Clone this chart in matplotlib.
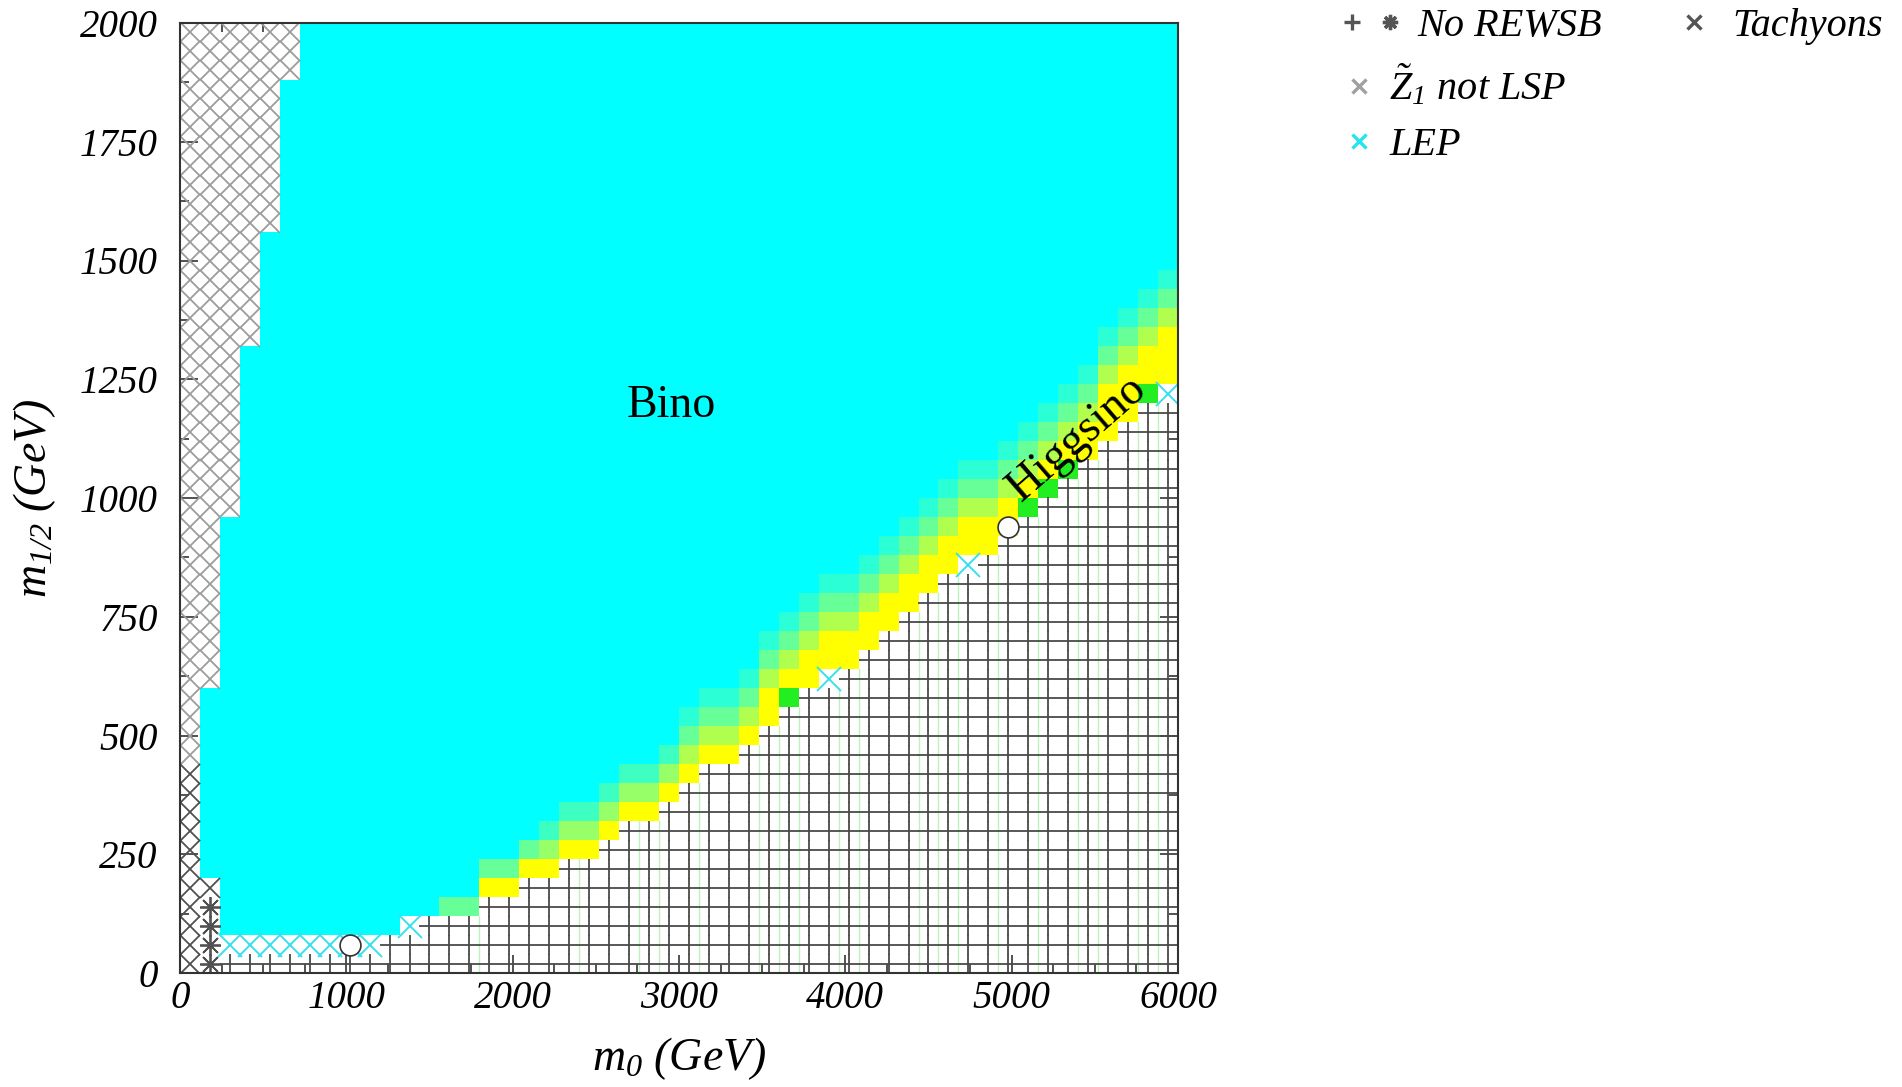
import numpy as np
import matplotlib
matplotlib.use("Agg")
import matplotlib.pyplot as plt
from matplotlib.colors import LinearSegmentedColormap, ListedColormap
from matplotlib.legend_handler import HandlerTuple
from matplotlib.lines import Line2D
from matplotlib.ticker import MultipleLocator

plt.rcParams["font.family"] = ["Liberation Serif", "DejaVu Serif"]
plt.rcParams["font.style"] = "italic"
plt.rcParams["mathtext.fontset"] = "custom"
plt.rcParams["mathtext.rm"] = "Liberation Serif"
plt.rcParams["mathtext.it"] = "Liberation Serif:italic"
plt.rcParams["mathtext.bf"] = "Liberation Serif:bold"

# scan grid, cell centres in GeV (50 x 50 points)
m0_vals = np.arange(60, 6000, 120)
m12_vals = np.arange(20, 2000, 40)

# first m1/2 row (index) with radiative EWSB, for each m0 column
rewsb_floor = [1, 1, 1, 1, 1, 1, 1, 1, 1, 1,
               2, 2, 3, 3, 3, 4, 4, 5, 5, 6,
               6, 7, 8, 8, 9, 10, 11, 11, 12, 13,
               14, 15, 15, 16, 17, 18, 19, 20, 21, 21,
               22, 23, 24, 25, 26, 27, 28, 29, 30, 30]

# number of m0 columns (from the left) where Z1 is not the LSP, for each m1/2 row
stau_cols = [2, 2, 2, 2, 2, 1, 1, 1, 1, 1,
             1, 1, 1, 1, 1, 2, 2, 2, 2, 2,
             2, 2, 2, 2, 3, 3, 3, 3, 3, 3,
             3, 3, 3, 4, 4, 4, 4, 4, 4, 5,
             5, 5, 5, 5, 5, 5, 5, 6, 6, 6]

# tachyonic points (column, row)
tach_cols = [0, 0, 0, 0, 0, 0, 0, 0, 0, 0, 0, 1, 1, 1, 1, 1]
tach_rows = [0, 1, 2, 3, 4, 5, 6, 7, 8, 9, 10, 0, 1, 2, 3, 4]

# no REWSB points drawn with the asterisk symbol
star_cols = [1, 1, 1, 1]
star_rows = [0, 1, 2, 3]

# LEP excluded points
lep_cols = [2, 3, 4, 5, 6, 7, 8, 9, 11, 32, 39, 49]
lep_rows = [1, 1, 1, 1, 1, 1, 1, 1, 2, 15, 21, 30]

# mixed (green) points on the higgsino edge
green_cols = [30, 42, 43, 44, 48]
green_rows = [14, 24, 25, 26, 30]

# benchmark points
bench_m0 = [1020, 4980]
bench_m12 = [60, 940]

# higgsino band above the REWSB edge: fully yellow rows, then fading rows
yellow_rows = [0, 0, 0, 0, 0, 0, 0, 0, 0, 0,
               0, 0, 0, 0, 0, 1, 1, 1, 1, 1,
               1, 1, 1, 1, 1, 1, 1, 1, 1, 2,
               2, 2, 2, 2, 2, 2, 2, 2, 2, 2,
               2, 2, 2, 2, 2, 2, 3, 3, 3, 3]
fade_rows = [0, 0, 0, 0, 0, 0, 0, 0, 0, 0,
             0, 0, 0, 1, 1, 1, 1, 1, 2, 2,
             2, 2, 2, 2, 2, 3, 3, 3, 3, 3,
             3, 3, 3, 3, 3, 3, 3, 3, 3, 3,
             3, 3, 3, 3, 3, 3, 3, 3, 3, 3]

# faint green scan lines inside the no-REWSB region (m0 of cell edges)
faint_m0 = [1800, 2400, 2760, 2880, 3120, 3480, 3600, 3720, 3960, 4080,
            4440, 4560, 4680, 4920, 5160, 5400, 5520, 5760, 5880]

# classify every scan point
NO_EWSB, STAU, TACH, STAR, LEP, OK = range(6)
ncol, nrow = len(m0_vals), len(m12_vals)
status = np.full((nrow, ncol), OK)
for i, f in enumerate(rewsb_floor):
    status[:f, i] = NO_EWSB
for j, n in enumerate(stau_cols):
    status[j, :n] = STAU
status[tach_rows, tach_cols] = TACH
status[star_rows, star_cols] = STAR
status[lep_rows, lep_cols] = LEP

field = np.full((nrow, ncol), np.nan)
for i in range(ncol):
    ok = np.where(status[:, i] == OK)[0]
    ok = ok[ok >= rewsb_floor[i]]
    if len(ok) == 0:
        continue
    base = ok.min()
    for j in ok:
        k = j - base
        if k < yellow_rows[i]:
            field[j, i] = 1.0
        elif k < yellow_rows[i] + fade_rows[i]:
            field[j, i] = (1 - (k - yellow_rows[i] + 1) / (fade_rows[i] + 1)) ** 1.3
        else:
            field[j, i] = 0.0
field[(status == OK) & np.isnan(field)] = 0.0

green = np.full((nrow, ncol), np.nan)
green[green_rows, green_cols] = 1.0

x_edges = np.arange(0, 6001, 120)
y_edges = np.arange(0, 2001, 40)

fig = plt.figure(figsize=(19.02, 10.87), dpi=100)
ax = fig.add_axes([180 / 1902, 1 - 973 / 1087, 998 / 1902, 950 / 1087])

cmap = LinearSegmentedColormap.from_list("bino_higgsino", ["#00ffff", "#ffff00"])
ax.pcolormesh(x_edges, y_edges, np.ma.masked_invalid(field), cmap=cmap, vmin=0, vmax=1, zorder=1)
ax.pcolormesh(x_edges, y_edges, np.ma.masked_invalid(green), cmap=ListedColormap(["#22ee22"]),
              vmin=0, vmax=1, zorder=1.2)

# faint lines run from the bottom up to the lower of the two neighbouring REWSB edges
for xm in faint_m0:
    i = int(round(xm / 120))
    top = min(rewsb_floor[i - 1], rewsb_floor[min(i, ncol - 1)]) * 40
    ax.plot([xm, xm], [0, top], color="#bdf2bd", lw=1.0, zorder=1.5)


def points(code):
    r, c = np.where(status == code)
    return m0_vals[c], m12_vals[r]


ms = 15
x, y = points(NO_EWSB)
ax.plot(x, y, ls="none", marker="+", ms=ms, mew=1.3, color="#4a4a4a", zorder=2)
x, y = points(STAU)
ax.plot(x, y, ls="none", marker="x", ms=ms, mew=1.3, color="#9c9c9c", zorder=2)
x, y = points(TACH)
ax.plot(x, y, ls="none", marker="x", ms=ms, mew=1.3, color="#505050", zorder=2.1)
x, y = points(STAR)
ax.plot(x, y, ls="none", marker=(8, 2, 0), ms=ms, mew=1.3, color="#505050", zorder=2.2)
x, y = points(LEP)
ax.plot(x, y, ls="none", marker="x", ms=17, mew=1.4, color="#38e0ee", zorder=2.3)
ax.plot(bench_m0, bench_m12, ls="none", marker="o", ms=15, mfc="white", mec="#333333",
        mew=1.2, zorder=3)

ax.text(2952, 1194, "Bino", fontsize=33, fontstyle="normal", ha="center", va="center", zorder=4)
ax.text(5393, 1124, "Higgsino", fontsize=33, fontstyle="normal", ha="center", va="center",
        rotation=41, rotation_mode="anchor", zorder=4)

ax.set_xlim(0, 6000)
ax.set_ylim(0, 2000)
ax.set_axisbelow(True)
ax.xaxis.set_major_locator(MultipleLocator(1000))
ax.xaxis.set_minor_locator(MultipleLocator(250))
ax.yaxis.set_major_locator(MultipleLocator(250))
ax.yaxis.set_minor_locator(MultipleLocator(125))
ax.tick_params(which="both", direction="in", top=True, right=True, width=1.2, color="#333333")
ax.tick_params(which="major", length=13)
ax.tick_params(which="minor", length=6.5)
ax.tick_params(axis="x", labelsize=28, pad=5)
ax.tick_params(axis="y", labelsize=28, pad=16)
for s in ax.spines.values():
    s.set_color("#333333")
    s.set_linewidth(1.5)

ax.set_xlabel(r"$\mathit{m}_{\mathit{0}}$ (GeV)", fontsize=33)
ax.xaxis.set_label_coords(0.5, -0.065)
ax.set_ylabel(r"$\mathit{m}_{\mathit{1/2}}$ (GeV)", fontsize=33)
ax.yaxis.set_label_coords(-0.122, 0.5)

# legend
h_norewsb = (Line2D([], [], ls="none", marker="+", ms=11, mew=2.4, color="#555555"),
             Line2D([], [], ls="none", marker=(8, 2, 0), ms=11, mew=2.4, color="#555555"))
h_stau = Line2D([], [], ls="none", marker="x", ms=10, mew=2.4, color="#a0a0a0")
h_lep = Line2D([], [], ls="none", marker="x", ms=10, mew=2.4, color="#22e5f0")
h_tach = Line2D([], [], ls="none", marker="x", ms=10, mew=2.4, color="#555555")
leg_font = {"family": "Liberation Serif", "style": "italic", "size": 29}
leg_kw = dict(loc="upper left", frameon=False, prop=leg_font, handletextpad=0.35,
              labelspacing=0.45, borderpad=0.2, borderaxespad=0)

fig.legend([h_norewsb], ["No REWSB"], bbox_to_anchor=(1331 / 1902, 1.0),
           handler_map={tuple: HandlerTuple(ndivide=None, pad=0.3)}, handlelength=1.6, **leg_kw)
fig.legend([h_stau, h_lep], [r"$\tilde{\mathrm{Z}}_{\mathit{1}}$ not LSP", "LEP"],
           bbox_to_anchor=(1335 / 1902, 1 - 55 / 1087), handlelength=0.8, **leg_kw)
fig.legend([h_tach], ["Tachyons"], bbox_to_anchor=(1662 / 1902, 1.0), handlelength=1.2, **leg_kw)

fig.savefig("out.png", dpi=100)
